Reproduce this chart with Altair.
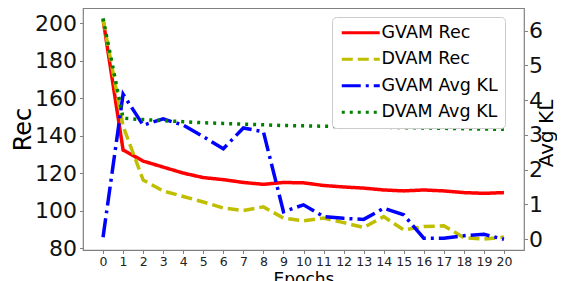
import altair as alt
import pandas as pd

epochs = list(range(21))
gvam_rec = [202, 132.3, 126.4, 123.2, 120.0, 117.6, 116.5, 115.0, 114.0, 115.0, 114.8,
            113.4, 112.6, 112.0, 111.0, 110.5, 111.0, 110.5, 109.6, 109.2, 109.6]
dvam_rec = [202, 145, 116.3, 110.5, 107.5, 104.6, 101.4, 100.0, 102.0, 96.0, 94.5,
            96.0, 93.6, 91.0, 96.8, 89.7, 91.5, 91.9, 85.6, 84.8, 85.9]
gvam_kl = [0.06, 4.17, 3.28, 3.46, 3.28, 2.95, 2.60, 3.20, 3.09, 0.79, 0.99,
           0.65, 0.60, 0.57, 0.89, 0.70, 0.03, 0.03, 0.10, 0.14, 0.00]
dvam_kl = [6.35, 3.48, 3.44, 3.41, 3.38, 3.35, 3.33, 3.31, 3.29, 3.27, 3.26,
           3.25, 3.24, 3.23, 3.22, 3.21, 3.20, 3.19, 3.18, 3.17, 3.16]

series = ["GVAM Rec", "DVAM Rec", "GVAM Avg KL", "DVAM Avg KL"]
colors = ["#ff0000", "#bfbf00", "#0000ff", "#008000"]
dashes = [[1, 0], [11, 5], [19, 5, 3, 5], [3, 5]]

rec = pd.DataFrame({
    "epoch": epochs * 2,
    "value": gvam_rec + dvam_rec,
    "series": [series[0]] * 21 + [series[1]] * 21,
})
kl = pd.DataFrame({
    "epoch": epochs * 2,
    "value": gvam_kl + dvam_kl,
    "series": [series[2]] * 21 + [series[3]] * 21,
})

color_enc = alt.Color(
    "series:N",
    scale=alt.Scale(domain=series, range=colors),
    legend=alt.Legend(
        title=None, orient="none", legendX=249, legendY=9,
        labelFontSize=17.5, labelFont="DejaVu Sans", labelColor="#000",
        symbolType="M-3.8,0H3.8", symbolSize=100, symbolStrokeWidth=3,
        symbolOffset=13, labelOffset=12, rowPadding=7.5,
        fillColor="white", strokeColor="#cccccc", cornerRadius=4,
        padding=7, labelLimit=300,
    ),
)
dash_enc = alt.StrokeDash(
    "series:N",
    scale=alt.Scale(domain=series, range=dashes),
    legend=None,
)

x_enc = alt.X(
    "epoch:Q",
    scale=alt.Scale(domain=[-1, 21], nice=False, zero=False),
    axis=alt.Axis(
        values=epochs, title="Epochs", grid=False, labelFontSize=12.5,
        titleFontSize=17, titleFontWeight="normal", titlePadding=3,
        labelFlush=False, domain=False, tickColor="#808080", tickSize=3.5,
        labelPadding=2, labelColor="#222",
    ),
)

left = alt.Chart(rec).mark_line(strokeWidth=3.5, strokeCap="butt").encode(
    x=x_enc,
    y=alt.Y(
        "value:Q",
        scale=alt.Scale(domain=[79, 208], nice=False, zero=False),
        axis=alt.Axis(
            values=[80, 100, 120, 140, 160, 180, 200], title="Rec", grid=False,
            labelFontSize=22, titleFontSize=24, titleFontWeight="normal",
            orient="left", domain=False, tickColor="#808080", tickSize=3.5,
            labelPadding=3, titlePadding=-1, labelColor="#111",
        ),
    ),
    color=color_enc,
    strokeDash=dash_enc,
)

right = alt.Chart(kl).mark_line(strokeWidth=3.5, strokeCap="butt").encode(
    x=x_enc,
    y=alt.Y(
        "value:Q",
        scale=alt.Scale(domain=[-0.31, 6.65], nice=False, zero=False),
        axis=alt.Axis(
            values=[0, 1, 2, 3, 4, 5, 6], title="Avg KL", grid=False,
            labelFontSize=22, titleFontSize=20, titleFontWeight="normal",
            orient="right", domain=False, tickColor="#808080", tickSize=3.5,
            labelPadding=1, titleAngle=270, titleBaseline="top",
            titleX=12, titleY=125, titleAlign="center",
            labelColor="#111",
        ),
    ),
    color=color_enc,
    strokeDash=dash_enc,
)

chart = (
    alt.layer(left, right)
    .resolve_scale(y="independent")
    .properties(
        width=441, height=242,
        autosize=alt.AutoSizeParams(type="none"),
        padding={"left": 75, "top": 0, "right": 33, "bottom": 31},
    )
    .configure_view(stroke="#808080", strokeWidth=1.2)
    .configure_axis(labelFont="DejaVu Sans", titleFont="DejaVu Sans", titleColor="#000")
    .configure_legend(labelFont="DejaVu Sans")
)

chart.save("out.html", embed_options={"renderer": "svg", "actions": False})
